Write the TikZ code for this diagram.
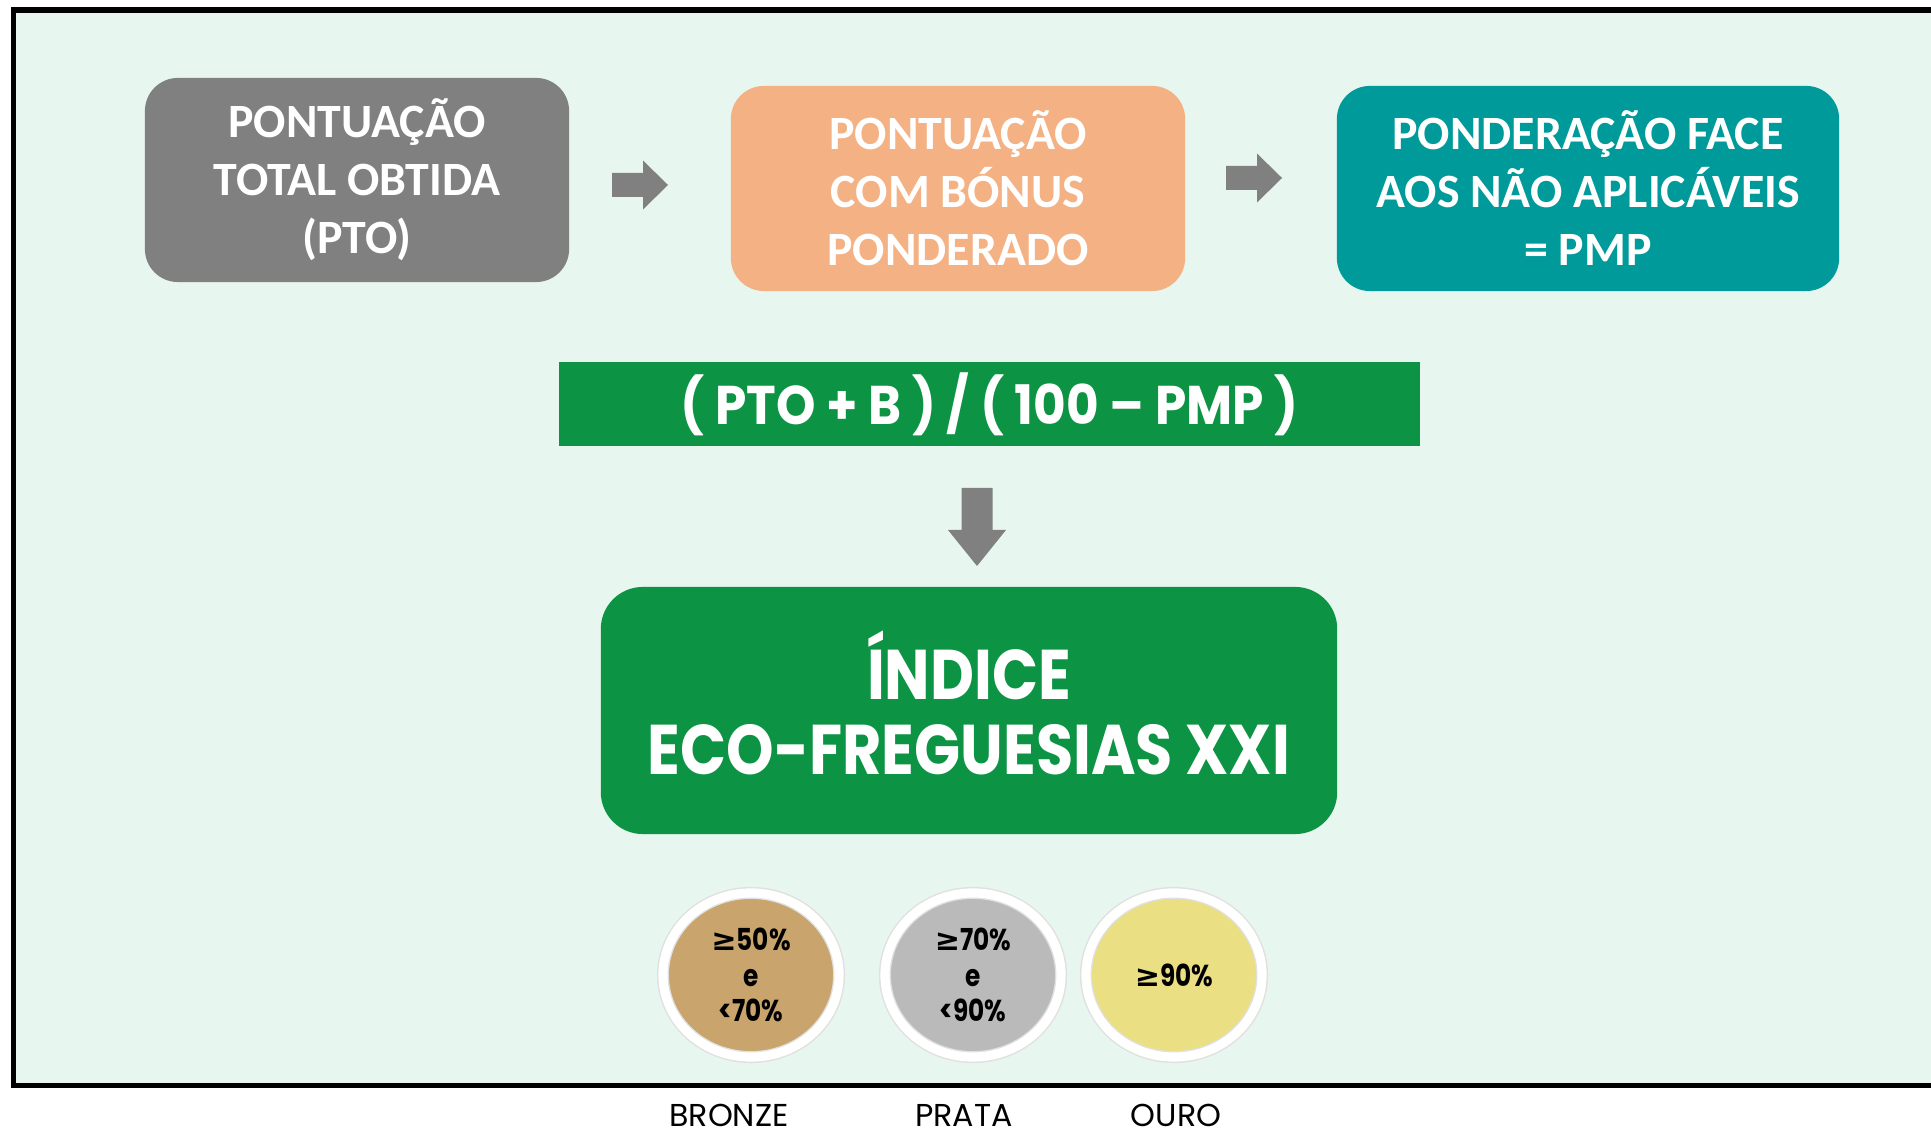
\documentclass[tikz,border=0pt]{standalone}
\usepackage{fontspec}
\setmainfont{Carlito}
\newfontfamily\popfont{Poppins}[FakeStretch=0.86]
\newfontfamily\popmid{Poppins}[FakeStretch=0.92]
\newfontfamily\popnarrow{Poppins}[FakeStretch=0.82]
\newfontfamily\popwide{Poppins}
\newfontfamily\symfont{DejaVu Sans}
\usetikzlibrary{shapes.geometric,shadows}

\definecolor{mintbg}{HTML}{E7F6EF}
\definecolor{boxgray}{HTML}{808080}
\definecolor{boxorange}{HTML}{F4B183}
\definecolor{boxteal}{HTML}{009A9A}
\definecolor{ecogreen}{HTML}{0C9444}
\definecolor{bronzecol}{HTML}{C9A46C}
\definecolor{pratacol}{HTML}{BABABA}
\definecolor{ourocol}{HTML}{EBDF84}

\def\gte{{\symfont\bfseries ≥}}

\tikzset{
	stepbox/.style={rectangle, rounded corners=0.33cm, inner sep=0pt, align=center, text=white, font=\fontsize{13.6}{16.5}\selectfont\bfseries},
	medal/.style={ellipse, draw=black!12, line width=0.4pt, double=white, double distance=2.6pt, minimum width=1.76cm, minimum height=1.64cm, inner sep=0pt, align=center, font=\popnarrow\bfseries\fontsize{8.6}{10}\selectfont, drop shadow={opacity=0.2, shadow xshift=0pt, shadow yshift=-1.2pt}},
	medallabel/.style={font=\popwide\fontsize{9}{10}\selectfont, inner sep=0pt},
}

\begin{document}
\begin{tikzpicture}[x=0.01cm, y=-0.01cm]
		%%%%% START %%%%%
		
		\useasboundingbox (0, 0) rectangle (1931, 1134);
		\fill[mintbg] (13, 10) rectangle (1931, 1085);
		\draw[line width=1.6pt, color=black] (1940, 10) -- (13.5, 10) -- (13.5, 1085.5) -- (1940, 1085.5);
		
		\node[stepbox, fill=boxgray, minimum width=4.24cm, minimum height=2.04cm] (pto) at (357, 180) {PONTUAÇÃO\\TOTAL OBTIDA\\(PTO)};
		\node[stepbox, fill=boxorange, minimum width=4.54cm, minimum height=2.05cm] (bonus) at (958, 188.5) {PONTUAÇÃO\\COM BÓNUS\\PONDERADO};
		\node[stepbox, fill=boxteal, minimum width=5.02cm, minimum height=2.05cm] (pmp) at (1588, 188.5) {PONDERAÇÃO FACE\\AOS NÃO APLICÁVEIS\\= PMP};
		
		\fill[boxgray, shift={(640, 185)}] (-28, -12) -- (3, -12) -- (3, -24.5) -- (28, 0) -- (3, 24.5) -- (3, 12) -- (-28, 12) -- cycle;
		\fill[boxgray, shift={(1254, 178)}] (-28, -12) -- (3, -12) -- (3, -24.5) -- (28, 0) -- (3, 24.5) -- (3, 12) -- (-28, 12) -- cycle;
		
		\node[rectangle, fill=ecogreen, minimum width=8.61cm, minimum height=0.84cm, inner sep=0pt, text=white, font=\popmid\bfseries\fontsize{15.5}{16}\selectfont] (formula) at (989.5, 404) {( PTO + B ) / ( 100 – PMP )};
		
		\fill[boxgray, shift={(977, 527)}] (-15.5, -39) -- (15.5, -39) -- (15.5, 3) -- (29, 3) -- (0, 39) -- (-29, 3) -- (-15.5, 3) -- cycle;
		
		\node[rectangle, rounded corners=0.42cm, fill=ecogreen, minimum width=7.36cm, minimum height=2.47cm, inner sep=0pt, text=white] (indice) at (969, 710.5) {};
		\node[align=center, inner sep=0pt, text=white, font=\popfont\bfseries\fontsize{20}{21.5}\selectfont] (indicetxt) at (969, 703) {ÍNDICE\\ECO-FREGUESIAS XXI};
		
		\node[medal, fill=bronzecol] (bronze) at (751, 975) {\gte50\%\\e\\<70\%};
		\node[medal, fill=pratacol] (prata) at (973, 975) {\gte70\%\\e\\<90\%};
		\node[medal, fill=ourocol] (ouro) at (1174, 975) {\gte90\%};
		
		\node[medallabel] (lblbronze) at (729, 1115) {BRONZE};
		\node[medallabel] (lblprata) at (964, 1115) {PRATA};
		\node[medallabel] (lblouro) at (1176, 1115) {OURO};
		
		%%%%% END %%%%%
	\end{tikzpicture}
\end{document}
